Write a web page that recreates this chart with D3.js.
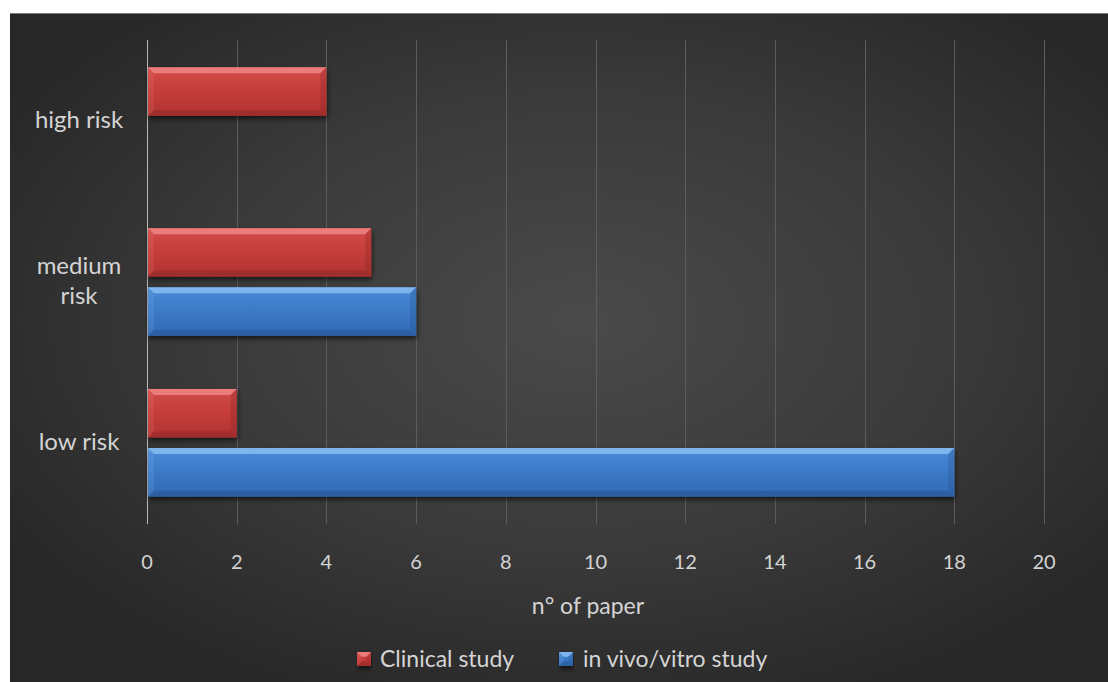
<!DOCTYPE html>
<html>
<head>
<meta charset="utf-8">
<script src="https://cdn.jsdelivr.net/npm/d3@7"></script>
<style>
  html, body { margin: 0; padding: 0; background: #ffffff; }
  svg { display: block; }
  text { font-family: Lato, "Open Sans", "Noto Sans", sans-serif; }
</style>
</head>
<body>
<svg id="chart" width="1108" height="682"></svg>
<script>
// Risk categories, top to bottom
const categories = ["high risk", "medium risk", "low risk"];
// Series: number of papers per risk category
const seriesNames = ["Clinical study", "in vivo/vitro study"];
const clinicalValues = [4, 5, 2];
const vivoVitroValues = [0, 6, 18];
// Horizontal axis ticks
const xTicks = [0, 2, 4, 6, 8, 10, 12, 14, 16, 18, 20];
const xTitle = "n° of paper";

const seriesValues = [clinicalValues, vivoVitroValues];
const palette = [
  { light: "#f08a86", dark: "#8a2626", top: "#d24e4b", mid: "#c63d3b", bottom: "#b13331" },
  { light: "#8cc0f4", dark: "#26528c", top: "#4a8ad6", mid: "#3c7bc8", bottom: "#3169b4" }
];

const svg = d3.select("#chart");
const W = 1108, H = 682;

const defs = svg.append("defs");

// Dark panel background with a soft central glow
const bg = defs.append("radialGradient").attr("id", "bgGrad")
  .attr("cx", "52%").attr("cy", "46%").attr("r", "62%");
bg.append("stop").attr("offset", "0%").attr("stop-color", "#4a4a4a");
bg.append("stop").attr("offset", "55%").attr("stop-color", "#3a3a3a");
bg.append("stop").attr("offset", "100%").attr("stop-color", "#272727");

// Bar gradients and shadow
palette.forEach((p, i) => {
  const g = defs.append("linearGradient").attr("id", "barGrad" + i)
    .attr("x1", 0).attr("y1", 0).attr("x2", 0).attr("y2", 1);
  g.append("stop").attr("offset", "0%").attr("stop-color", p.top);
  g.append("stop").attr("offset", "45%").attr("stop-color", p.mid);
  g.append("stop").attr("offset", "100%").attr("stop-color", p.bottom);
});
const sh = defs.append("filter").attr("id", "shadow")
  .attr("x", "-5%").attr("y", "-30%").attr("width", "110%").attr("height", "170%");
sh.append("feDropShadow").attr("dx", 1).attr("dy", 3).attr("stdDeviation", 2.5)
  .attr("flood-color", "#000").attr("flood-opacity", 0.6);

// Panel
svg.append("rect").attr("x", 10).attr("y", 13).attr("width", W - 10).attr("height", H - 13)
  .attr("fill", "url(#bgGrad)");
svg.append("line").attr("x1", 10).attr("x2", W).attr("y1", 13.5).attr("y2", 13.5)
  .attr("stroke", "#7a7a7a").attr("stroke-width", 1);

// Scales
const plotTop = 40, plotBottom = 524;
const x = d3.scaleLinear().domain([0, 20]).range([147, 1044]);
const y0 = d3.scaleBand().domain(categories).range([plotTop, plotBottom])
  .paddingInner(0.33).paddingOuter(0.17);
const y1 = d3.scaleBand().domain(seriesNames).range([0, y0.bandwidth()]).paddingInner(0.18);

// Gridlines
svg.append("g").selectAll("line").data(xTicks).join("line")
  .attr("x1", d => Math.round(x(d)) + 0.5).attr("x2", d => Math.round(x(d)) + 0.5)
  .attr("y1", plotTop).attr("y2", plotBottom)
  .attr("stroke", d => d === 0 ? "#b8b8b8" : "#5c5c5c")
  .attr("stroke-width", 1);

// Tick labels
svg.append("g").selectAll("text").data(xTicks).join("text")
  .attr("x", d => x(d)).attr("y", 569)
  .attr("text-anchor", "middle")
  .attr("font-size", 20).attr("fill", "#d4d4d4")
  .text(d => d);

// Axis title
svg.append("text").attr("x", 588).attr("y", 614)
  .attr("text-anchor", "middle").attr("font-size", 23).attr("fill", "#d4d4d4")
  .text(xTitle);

// Category labels (wrapped on two lines where long)
const catLabelX = 79;
const catLines = { "high risk": ["high risk"], "medium risk": ["medium", "risk"], "low risk": ["low risk"] };
categories.forEach(c => {
  const lines = catLines[c];
  const cy = y0(c) + y0.bandwidth() / 2;
  const lh = 30;
  lines.forEach((ln, k) => {
    svg.append("text")
      .attr("x", catLabelX)
      .attr("y", cy + (k - (lines.length - 1) / 2) * lh + 7)
      .attr("text-anchor", "middle").attr("font-size", 24).attr("fill", "#d4d4d4")
      .text(ln);
  });
});

// Bars with a soft bevelled look
function drawBar(g, x0, yTop, w, h, i) {
  const p = palette[i];
  const bar = g.append("g");
  bar.append("rect").attr("x", x0).attr("y", yTop).attr("width", w).attr("height", h)
    .attr("fill", "url(#barGrad" + i + ")").attr("filter", "url(#shadow)");
  const b = Math.min(6, w / 3);
  const pts = a => a.map(q => q.join(",")).join(" ");
  // top bevel
  bar.append("polygon")
    .attr("points", pts([[x0, yTop], [x0 + w, yTop], [x0 + w - b, yTop + b], [x0 + b, yTop + b]]))
    .attr("fill", p.light).attr("opacity", 0.8);
  // right bevel
  bar.append("polygon")
    .attr("points", pts([[x0 + w, yTop], [x0 + w, yTop + h], [x0 + w - b, yTop + h - b], [x0 + w - b, yTop + b]]))
    .attr("fill", p.dark).attr("opacity", 0.3);
  // bottom bevel
  bar.append("polygon")
    .attr("points", pts([[x0, yTop + h], [x0 + w, yTop + h], [x0 + w - b, yTop + h - b], [x0 + b, yTop + h - b]]))
    .attr("fill", p.dark).attr("opacity", 0.45);
  // left bevel
  bar.append("polygon")
    .attr("points", pts([[x0, yTop], [x0, yTop + h], [x0 + b, yTop + h - b], [x0 + b, yTop + b]]))
    .attr("fill", p.light).attr("opacity", 0.15);
}

const barsG = svg.append("g");
categories.forEach((c, ci) => {
  seriesNames.forEach((s, si) => {
    const v = seriesValues[si][ci];
    if (v <= 0) return;
    const x0 = x(0) + 1;
    drawBar(barsG, x0, y0(c) + y1(s), x(v) - x0, y1.bandwidth(), si);
  });
});

// Legend
const legendItems = [
  { name: seriesNames[0], i: 0, mx: 357, tx: 380 },
  { name: seriesNames[1], i: 1, mx: 559, tx: 583 }
];
legendItems.forEach(it => {
  const g = svg.append("g");
  drawBar(g, it.mx, 652, 14, 14, it.i);
  g.append("text").attr("x", it.tx).attr("y", 667)
    .attr("font-size", 23).attr("fill", "#d4d4d4").text(it.name);
});
</script>
</body>
</html>
